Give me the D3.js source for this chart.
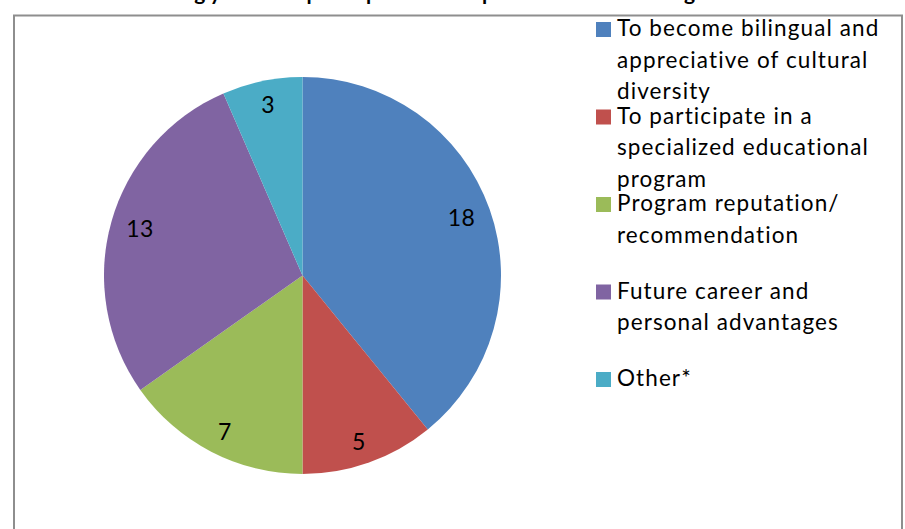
<!DOCTYPE html>
<html>
<head>
<meta charset="utf-8">
<script src="https://cdn.jsdelivr.net/npm/d3@7"></script>
<style>
  body { margin: 0; background: #fff; }
  svg text { font-family: Lato, 'Open Sans', sans-serif; }
</style>
</head>
<body>
<div id="chart"></div>
<script>
const chartWidth = 905
const chartHeight = 529

// data
const categories = [
  'To become bilingual and appreciative of cultural diversity',
  'To participate in a specialized educational program',
  'Program reputation/ recommendation',
  'Future career and personal advantages',
  'Other*',
]
// legend line breaks as in the picture
const legendLines = [
  ['To become bilingual and', 'appreciative of cultural', 'diversity'],
  ['To participate in a', 'specialized educational', 'program'],
  ['Program reputation/', 'recommendation'],
  ['Future career and', 'personal advantages'],
  ['Other*'],
]
const counts = [18, 5, 7, 13, 3]
const colors = ['#4f81bd', '#c0504d', '#9bbb59', '#8064a2', '#4bacc6']
const title = 'Reasons for having your child participate in the Spanish Immersion Program?'

const svg = d3
  .select('#chart')
  .append('svg')
  .attr('width', chartWidth)
  .attr('height', chartHeight)

// title, cut by the top edge like in the picture
svg
  .append('text')
  .attr('x', 385)
  .attr('y', 0)
  .attr('text-anchor', 'middle')
  .style('font-size', '21px')
  .style('font-weight', 'bold')
  .attr('fill', '#000')
  .text(title)

// chart frame
svg
  .append('rect')
  .attr('x', 14)
  .attr('y', 15.5)
  .attr('width', 888)
  .attr('height', 540)
  .attr('fill', '#fff')
  .attr('stroke', '#8e8e8e')
  .attr('stroke-width', 2)

const cx = 302.5
const cy = 275.5
const radius = 198.5

const pie = d3.pie().sort(null).value(d => d)
const arc = d3.arc().innerRadius(0).outerRadius(radius)
const labelArc = d3.arc().innerRadius(radius * 0.85).outerRadius(radius * 0.85)
const arcs = pie(counts)

const g = svg.append('g').attr('transform', `translate(${cx},${cy})`)

g.selectAll('path')
  .data(arcs)
  .enter()
  .append('path')
  .attr('d', arc)
  .attr('fill', (d, i) => colors[i])

// 標籤: 上下方向稍微往外推
g.selectAll('text')
  .data(arcs)
  .enter()
  .append('text')
  .attr('transform', d => {
    const [x, y] = labelArc.centroid(d)
    return `translate(${x},${y * 1.04})`
  })
  .attr('text-anchor', 'middle')
  .attr('dominant-baseline', 'central')
  .style('font-size', '23px')
  .style('letter-spacing', '0.5px')
  .attr('fill', '#000')
  .text(d => d.data)

// legend
const legendY = d3.scaleLinear().domain([0, 1]).range([36, 123.5])
const legend = svg
  .selectAll('.legend')
  .data(categories)
  .enter()
  .append('g')
  .attr('class', 'legend')
  .attr('transform', (d, i) => `translate(596,${legendY(i)})`)

legend
  .append('rect')
  .attr('x', 0)
  .attr('y', -14)
  .attr('width', 15)
  .attr('height', 15)
  .attr('fill', (d, i) => colors[i])

legend
  .append('text')
  .attr('x', 21)
  .attr('y', 0)
  .style('font-size', '22.5px')
  .style('letter-spacing', '1.1px')
  .attr('fill', '#000')
  .selectAll('tspan')
  .data((d, i) => legendLines[i])
  .enter()
  .append('tspan')
  .attr('x', 21)
  .attr('dy', (d, j) => (j === 0 ? 0 : 31.5))
  .text(d => d)
</script>
</body>
</html>
